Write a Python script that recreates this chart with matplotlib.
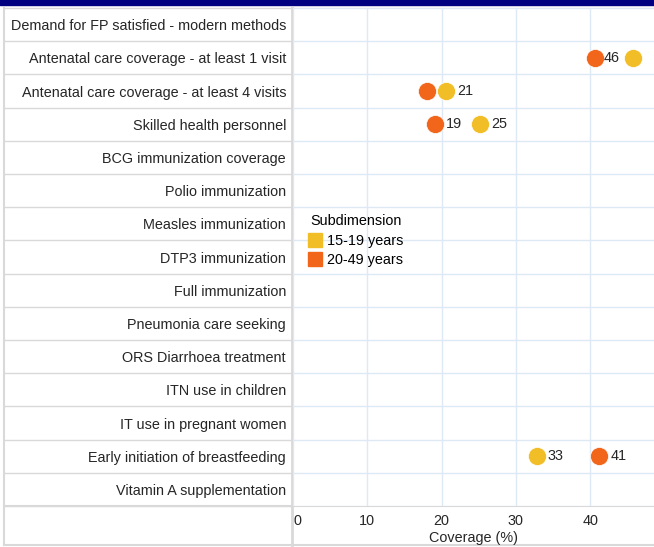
import numpy as np
import matplotlib
matplotlib.use("Agg")
import matplotlib.pyplot as plt
from matplotlib.lines import Line2D

plt.rcParams['font.family'] = ['Liberation Sans', 'DejaVu Sans']

indicators = [
    "Demand for FP satisfied - modern methods",
    "Antenatal care coverage - at least 1 visit",
    "Antenatal care coverage - at least 4 visits",
    "Skilled health personnel",
    "BCG immunization coverage",
    "Polio immunization",
    "Measles immunization",
    "DTP3 immunization",
    "Full immunization",
    "Pneumonia care seeking",
    "ORS Diarrhoea treatment",
    "ITN use in children",
    "IT use in pregnant women",
    "Early initiation of breastfeeding",
    "Vitamin A supplementation",
]
nan = np.nan
# 15-19 years
young = [nan, 45.8, 20.6, 25.2, nan, nan, nan, nan, nan, nan, nan, nan, nan, 32.8, nan]
young_lbl = ["", "46", "21", "25", "", "", "", "", "", "", "", "", "", "33", ""]
# 20-49 years
older = [nan, 40.6, 18.1, 19.1, nan, nan, nan, nan, nan, nan, nan, nan, nan, 41.2, nan]
older_lbl = ["", "", "", "19", "", "", "", "", "", "", "", "", "", "41", ""]
xticks = [0, 10, 20, 30, 40]

c_young = "#F1BE28"
c_old = "#F1661A"
grid_c = "#dde9f5"
border_c = "#d9d9d9"
txt_c = "#262626"
fs = 10.4

W, H = 654, 547
fig = plt.figure(figsize=(W / 100, H / 100), dpi=100)

# background axes in pixel coords for the table frame
bg = fig.add_axes([0, 0, 1, 1])
bg.set_xlim(0, W)
bg.set_ylim(H, 0)
bg.axis("off")
bg.fill_between([0, W], 0, 5, color="#000080")

top, bot, left = 8, 506, 293
ax = fig.add_axes([left / W, (H - bot) / H, (W - left) / W, (bot - top) / H])
n = len(indicators)
ypos = np.arange(n)

ax.set_xlim(0, 48.6)
ax.set_ylim(n - 0.5, -0.5)
ax.set_yticks(ypos)
ax.set_yticklabels(indicators, fontsize=fs, color=txt_c)
ax.set_xticks(xticks)
ax.set_xticklabels([str(t) for t in xticks], fontsize=fs, color=txt_c)
ax.get_xticklabels()[0].set_horizontalalignment("left")
ax.tick_params(axis="y", length=0, pad=5)
ax.tick_params(axis="x", length=0, pad=6)
ax.set_xlabel("Coverage (%)", fontsize=fs, color=txt_c, labelpad=2)
ax.set_yticks(np.arange(n + 1) - 0.5, minor=True)
ax.tick_params(axis="y", which="minor", length=0)
ax.grid(True, which="minor", axis="y", color=grid_c, lw=1)
ax.grid(True, which="major", axis="x", color=grid_c, lw=1)
ax.set_axisbelow(True)
for s in ax.spines.values():
    s.set_visible(False)

ax.plot(young, ypos, "o", color=c_young, ms=13, mec="white", mew=0.5, zorder=3)
ax.plot(older, ypos, "o", color=c_old, ms=13, mec="white", mew=0.5, zorder=3)

for i in range(n):
    if young_lbl[i]:
        if i == 1:
            ax.annotate(young_lbl[i], (young[i], i), xytext=(-10, 0), textcoords="offset points",
                        ha="right", va="center", fontsize=fs, color=txt_c, zorder=4)
        else:
            ax.annotate(young_lbl[i], (young[i], i), xytext=(8, 0), textcoords="offset points",
                        ha="left", va="center", fontsize=fs, color=txt_c, zorder=4)
    if older_lbl[i]:
        ax.annotate(older_lbl[i], (older[i], i), xytext=(8, 0), textcoords="offset points",
                    ha="left", va="center", fontsize=fs, color=txt_c, zorder=4)

# table frame
for k in range(n + 1):
    yy = top + k * (bot - top) / n
    bg.plot([4, left], [yy, yy], color=border_c, lw=1)
bg.plot([left, W], [top, top], color=border_c, lw=1)
bg.plot([4, W], [bot, bot], color=border_c, lw=1.5)
bg.plot([4, W], [545, 545], color=border_c, lw=1.5)
bg.plot([4, 4], [top, 545], color=border_c, lw=1.5)
bg.plot([left - 1, left - 1], [top, 545], color=border_c, lw=2)

handles = [Line2D([], [], marker="s", ls="", color=c_young, ms=10),
           Line2D([], [], marker="s", ls="", color=c_old, ms=10)]
leg = fig.legend(handles, ["15-19 years", "20-49 years"], title="Subdimension",
                 loc="upper left", bbox_to_anchor=(310 / W, 1 - 214 / H), frameon=False,
                 fontsize=fs, title_fontsize=fs, handlelength=0.7, handletextpad=0.5,
                 labelspacing=0.35, borderaxespad=0, borderpad=0)
leg._legend_box.align = "left"
leg._legend_box.sep = 4

fig.savefig("out.png", dpi=100)
